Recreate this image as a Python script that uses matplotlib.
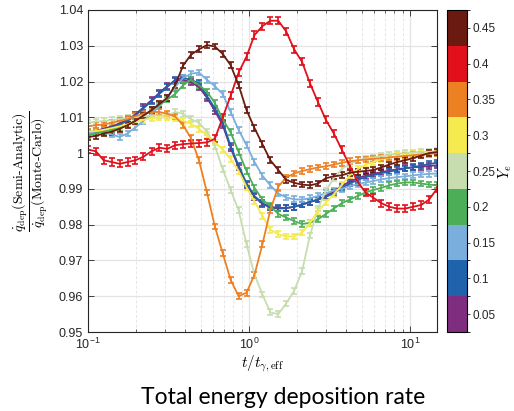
import numpy as np
import matplotlib
matplotlib.use('Agg')
import matplotlib.pyplot as plt
import matplotlib.colors as mcolors
from matplotlib.ticker import LogLocator, NullFormatter

plt.rcParams['font.family'] = ['Liberation Sans', 'DejaVu Sans']
plt.rcParams['mathtext.fontset'] = 'cm'

#-------------------------------------------------------------------------------
# Data
#-------------------------------------------------------------------------------
t_norm = [0.100, 0.112, 0.125, 0.141, 0.157, 0.176, 0.197, 0.221, 0.248, 0.277,
          0.311, 0.348, 0.390, 0.436, 0.489, 0.548, 0.614, 0.687, 0.769, 0.862,
          0.966, 1.082, 1.212, 1.357, 1.520, 1.703, 1.908, 2.137, 2.393, 2.681,
          3.003, 3.364, 3.768, 4.221, 4.728, 5.296, 5.932, 6.645, 7.443, 8.337,
          9.339, 10.46, 11.72, 13.13, 14.70]

ye_vals = [0.05, 0.10, 0.15, 0.20, 0.25, 0.30, 0.35, 0.40, 0.45]
ye_colors = ['#7e2d7f', '#1f63ad', '#7aaedc', '#4caf58', '#c7ddb0',
             '#f5ea50', '#ee8024', '#e1101b', '#6b1a10']

q_005 = [1.0058, 1.0062, 1.0068, 1.0075, 1.0083, 1.0093, 1.0108, 1.0128, 1.0148, 1.0168,
         1.0188, 1.0202, 1.0205, 1.0198, 1.0185, 1.0155, 1.0118, 1.0078, 1.0015, 0.9960,
         0.9910, 0.9878, 0.9858, 0.9848, 0.9845, 0.9846, 0.9850, 0.9856, 0.9863, 0.9870,
         0.9880, 0.9893, 0.9908, 0.9920, 0.9930, 0.9937, 0.9942, 0.9947, 0.9951, 0.9955,
         0.9958, 0.9960, 0.9962, 0.9964, 0.9966]
q_010 = [1.0055, 1.0060, 1.0065, 1.0072, 1.0080, 1.0090, 1.0105, 1.0125, 1.0145, 1.0165,
         1.0185, 1.0205, 1.0210, 1.0205, 1.0195, 1.0160, 1.0125, 1.0085, 1.0020, 0.9965,
         0.9915, 0.9880, 0.9860, 0.9850, 0.9847, 0.9847, 0.9850, 0.9856, 0.9864, 0.9870,
         0.9878, 0.9888, 0.9902, 0.9915, 0.9925, 0.9933, 0.9938, 0.9944, 0.9948, 0.9953,
         0.9957, 0.9961, 0.9965, 0.9969, 0.9973]
q_015 = [1.0055, 1.0060, 1.0058, 1.0052, 1.0045, 1.0055, 1.0072, 1.0090, 1.0110, 1.0130,
         1.0155, 1.0185, 1.0210, 1.0222, 1.0225, 1.0205, 1.0187, 1.0165, 1.0115, 1.0065,
         1.0022, 0.9975, 0.9937, 0.9910, 0.9887, 0.9876, 0.9871, 0.9870, 0.9874, 0.9880,
         0.9888, 0.9895, 0.9900, 0.9908, 0.9913, 0.9918, 0.9922, 0.9927, 0.9930, 0.9933,
         0.9935, 0.9938, 0.9940, 0.9942, 0.9943]
q_020 = [1.0050, 1.0055, 1.0060, 1.0065, 1.0070, 1.0080, 1.0090, 1.0105, 1.0120, 1.0135,
         1.0150, 1.0165, 1.0190, 1.0205, 1.0190, 1.0172, 1.0140, 1.0095, 1.0058, 1.0003,
         0.9950, 0.9903, 0.9870, 0.9852, 0.9830, 0.9820, 0.9810, 0.9802, 0.9805, 0.9815,
         0.9830, 0.9845, 0.9860, 0.9870, 0.9880, 0.9890, 0.9897, 0.9903, 0.9910, 0.9915,
         0.9918, 0.9918, 0.9915, 0.9912, 0.9910]
q_025 = [1.0085, 1.0088, 1.0090, 1.0092, 1.0095, 1.0098, 1.0100, 1.0103, 1.0105, 1.0105,
         1.0105, 1.0115, 1.0110, 1.0095, 1.0085, 1.0060, 1.0020, 0.9955, 0.9897, 0.9840,
         0.9745, 0.9660, 0.9605, 0.9555, 0.9550, 0.9580, 0.9615, 0.9670, 0.9770, 0.9845,
         0.9895, 0.9930, 0.9955, 0.9970, 0.9980, 0.9985, 0.9988, 0.9992, 0.9995, 0.9998,
         1.0000, 1.0002, 1.0003, 1.0004, 1.0005]
q_030 = [1.0060, 1.0062, 1.0065, 1.0070, 1.0075, 1.0080, 1.0087, 1.0093, 1.0097, 1.0100,
         1.0100, 1.0097, 1.0090, 1.0082, 1.0068, 1.0050, 1.0030, 1.0010, 0.9983, 0.9950,
         0.9905, 0.9865, 0.9825, 0.9786, 0.9773, 0.9767, 0.9767, 0.9778, 0.9805, 0.9838,
         0.9862, 0.9885, 0.9910, 0.9938, 0.9955, 0.9968, 0.9975, 0.9983, 0.9988, 0.9992,
         0.9995, 0.9997, 0.9998, 1.0000, 1.0000]
q_035 = [1.0075, 1.0078, 1.0080, 1.0085, 1.0090, 1.0095, 1.0103, 1.0110, 1.0115, 1.0115,
         1.0110, 1.0102, 1.0078, 1.0042, 0.9980, 0.9890, 0.9795, 0.9720, 0.9646, 0.9600,
         0.9610, 0.9660, 0.9745, 0.9841, 0.9906, 0.9932, 0.9943, 0.9950, 0.9955, 0.9960,
         0.9963, 0.9968, 0.9973, 0.9977, 0.9980, 0.9982, 0.9984, 0.9986, 0.9988, 0.9990,
         0.9992, 0.9994, 0.9996, 0.9998, 1.0000]
q_040 = [1.0010, 1.0005, 0.9980, 0.9975, 0.9970, 0.9975, 0.9980, 0.9990, 1.0005, 1.0015,
         1.0012, 1.0022, 1.0025, 1.0027, 1.0028, 1.0030, 1.0040, 1.0100, 1.0160, 1.0225,
         1.0270, 1.0330, 1.0355, 1.0370, 1.0370, 1.0340, 1.0290, 1.0255, 1.0195, 1.0143,
         1.0093, 1.0055, 1.0010, 0.9965, 0.9920, 0.9890, 0.9875, 0.9860, 0.9850, 0.9845,
         0.9845, 0.9850, 0.9855, 0.9870, 0.9900]
q_045 = [1.0045, 1.0048, 1.0055, 1.0060, 1.0068, 1.0078, 1.0090, 1.0105, 1.0120, 1.0137,
         1.0155, 1.0190, 1.0245, 1.0275, 1.0290, 1.0302, 1.0298, 1.0277, 1.0246, 1.0190,
         1.0120, 1.0070, 1.0025, 0.9980, 0.9953, 0.9925, 0.9917, 0.9912, 0.9910, 0.9915,
         0.9930, 0.9935, 0.9938, 0.9945, 0.9948, 0.9950, 0.9953, 0.9960, 0.9968, 0.9975,
         0.9980, 0.9986, 0.9993, 1.0000, 1.0003]

ratio_list = [q_005, q_010, q_015, q_020, q_025, q_030, q_035, q_040, q_045]
err_list   = [0.0008, 0.0008, 0.0008, 0.0008, 0.0008, 0.0008, 0.0008, 0.0010, 0.0008]

#-------------------------------------------------------------------------------
# Figure
#-------------------------------------------------------------------------------
fig = plt.figure(figsize=(5.14, 4.11), dpi=100)
ax  = fig.add_axes([88/514, 1-332/411, 349/514, 322/411])
cax = fig.add_axes([447/514, 1-332/411, 20/514, 322/411])

for q, err, c in zip(ratio_list, err_list, ye_colors):
    ax.errorbar(t_norm, q, yerr=err, color=c, linewidth=1.3,
                elinewidth=1.2, capsize=2.4, capthick=1.2)

ax.set_xscale('log')
ax.set_xlim(0.1, 14.72)
ax.set_ylim(0.95, 1.04)
ax.set_yticks(np.arange(0.95, 1.0401, 0.01))
ax.set_yticklabels(['0.95', '0.96', '0.97', '0.98', '0.99', '1',
                    '1.01', '1.02', '1.03', '1.04'])
ax.xaxis.set_minor_locator(LogLocator(base=10, subs=np.arange(2, 10), numticks=20))
ax.xaxis.set_minor_formatter(NullFormatter())

ax.grid(True, which='major', color='#e3e3e3', linewidth=0.9, linestyle='-')
ax.grid(True, which='minor', axis='x', color='#e6e6e6', linewidth=0.7, linestyle=(0, (3, 2)))
ax.set_axisbelow(True)
ax.tick_params(which='both', direction='in', top=True, right=True,
               labelsize=9, colors='#262626')
ax.tick_params(which='major', length=4, width=0.6)
ax.tick_params(which='minor', length=2, width=0.5)
for sp in ax.spines.values():
    sp.set_color('#262626')
    sp.set_linewidth(0.8)

ax.set_xlabel(r'$t/t_{\gamma,\mathrm{eff}}$', fontsize=11, labelpad=1)
ax.set_ylabel(r'$\dfrac{\dot{q}_{\mathrm{dep}}(\text{Semi-Analytic})}'
              r'{\dot{q}_{\mathrm{dep}}(\text{Monte-Carlo})}$',
              fontsize=10, labelpad=6)

# discrete colorbar for Ye
bounds = np.append(np.array(ye_vals) - 0.025, ye_vals[-1] + 0.025)
cmap = mcolors.ListedColormap(ye_colors)
norm = mcolors.BoundaryNorm(bounds, cmap.N)
cb = fig.colorbar(plt.cm.ScalarMappable(norm=norm, cmap=cmap), cax=cax,
                  ticks=ye_vals)
cb.ax.set_yticklabels([f'{v:g}' for v in ye_vals])
cb.ax.tick_params(labelsize=8.5, length=2, width=0.6, pad=2, colors='#262626')
cb.outline.set_linewidth(0.8)
fig.text(505/514, 1-172/411, r'$Y_e$', rotation=90, ha='center', va='center',
         fontsize=10.5)

fig.text(0.551, 0.033, 'Total energy deposition rate', ha='center', va='center',
         fontsize=16.5, family=['Lato', 'DejaVu Sans'])

fig.savefig('out.png', dpi=100)
plt.close()
